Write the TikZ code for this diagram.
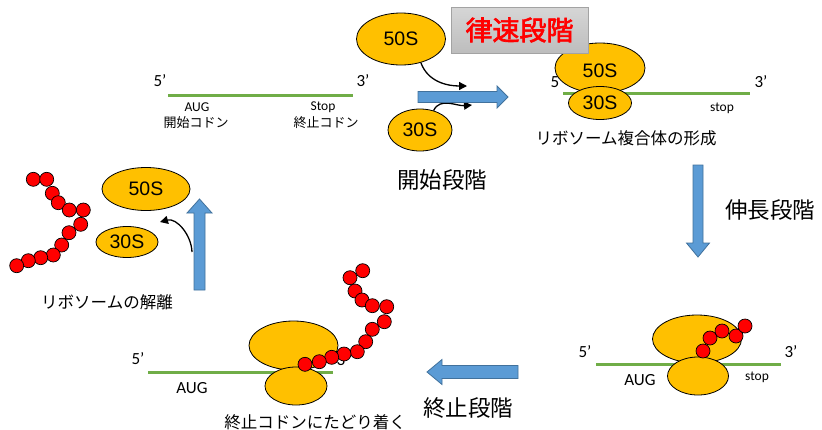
\documentclass[tikz,border=0pt]{standalone}
\usepackage{fontspec}
\setmainfont{Carlito}
\newfontfamily\jp{Noto Sans CJK JP}
\newfontfamily\jpheavy[FakeBold=2.5]{Noto Sans CJK JP}
\newfontfamily\ribofont{Liberation Sans}
\usetikzlibrary{shapes.geometric,arrows.meta}

\definecolor{ribo}{HTML}{FFC000}
\definecolor{flowblue}{HTML}{5B9BD5}
\definecolor{flowedge}{HTML}{41719C}
\definecolor{mrnagreen}{HTML}{70AD47}
\definecolor{boxtop}{HTML}{D6D6D6}
\definecolor{boxbot}{HTML}{BDBDBD}
\definecolor{boxedge}{HTML}{A3A3A3}

\tikzset{
  mrna/.style={draw=mrnagreen, line width=3pt},
  subunit/.style={ellipse, draw=black, line width=0.8pt, fill=ribo, inner sep=0pt,
                  font=\ribofont\fontsize{19.5}{19.5}\selectfont},
  bead/.style={circle, draw=black, line width=0.7pt, fill=red, minimum size=14pt, inner sep=0pt},
  lbl/.style={inner sep=0pt, font=\fontsize{17}{17}\selectfont},
  small/.style={inner sep=0pt, font=\fontsize{13.5}{13.5}\selectfont},
  jlbl/.style={inner sep=0pt, font=\jp\fontsize{16.5}{16.5}\selectfont},
  jsmall/.style={inner sep=0pt, font=\jp\fontsize{13}{13}\selectfont},
  stage/.style={inner sep=0pt, font=\jp\fontsize{22.5}{22.5}\selectfont},
  blockarrow/.style={fill=flowblue, draw=flowedge, line width=0.8pt, line join=miter},
  curvearrow/.style={draw=black, line width=1.3pt, -{Triangle[length=8pt,width=8pt]}},
}

\begin{document}
\begin{tikzpicture}[x=1pt,y=1pt]
\useasboundingbox (0,0) rectangle (822,-429);

% ---------- free mRNA with its codons ----------
\draw[mrna] (168,-95) -- (353,-95);
\node[lbl] (tl5) at (160,-81) {5’};
\node[lbl] (tl3) at (363,-81) {3’};
\node[small] (tlaug) at (197,-107) {AUG};
\node[jsmall] (tlstartc) at (196,-123) {開始コドン};
\node[small] (tlstop) at (323,-107) {Stop};
\node[jsmall] (tlstopc) at (326,-123) {終止コドン};

% ---------- separate subunits joining ----------
\node[subunit, minimum width=89pt, minimum height=52pt] (s50a) at (401,-39) {50S};
\node[subunit, minimum width=64pt, minimum height=42pt] (s30a) at (420,-130) {30S};
\coordinate (j1) at (467,-86);
\coordinate (j2) at (472,-105);
\draw[curvearrow] (s50a.-50) to[out=-70,in=180] (j1);
\draw[curvearrow] (s30a.55) to[out=65,in=185] (j2);

% initiation arrow
\fill[blockarrow] (418,-91.5) -- (497,-91.5) -- (497,-86) -- (508,-97)
  -- (497,-108) -- (497,-102.5) -- (418,-102.5) -- cycle;
\node[stage] (initst) at (442,-180) {開始段階};

% ---------- initiation complex ----------
\draw[mrna] (563,-93) -- (750,-93);
\node[lbl] (tr5) at (557,-82) {5’};
\node[lbl] (tr3) at (761,-82) {3’};
\node[small] (trstop) at (722,-108) {stop};
\node[subunit, minimum width=90pt, minimum height=50pt] (s50b) at (600,-68) {};
\node[inner sep=0pt, font=\ribofont\fontsize{19.5}{19.5}\selectfont] (t50b) at (600,-71) {50S};
\node[subunit, minimum width=63pt, minimum height=33pt] (s30b) at (600,-103) {30S};
\node[jlbl] (complex) at (626,-138) {リボソーム複合体の形成};

% rate-limiting step label
\node[draw=boxedge, line width=0.8pt, top color=boxtop, bottom color=boxbot,
      minimum width=137pt, minimum height=46pt, inner sep=0pt,
      font=\jpheavy\fontsize{27}{27}\selectfont, text=red] (ratelim) at (519.5,-30) {律速段階};

% elongation arrow
\fill[blockarrow] (693,-165) -- (703,-165) -- (703,-243) -- (709.5,-243) -- (698,-257)
  -- (686.5,-243) -- (693,-243) -- cycle;
\node[stage] (elongst) at (770,-210) {伸長段階};

% ---------- elongating ribosome ----------
\draw[mrna] (596,-364) -- (781,-364);
\node[lbl] (br5) at (585,-352) {5’};
\node[lbl] (br3) at (791,-352) {3’};
\node[lbl] (braug) at (640,-380) {AUG};
\node[small] (brstop) at (757,-377) {stop};
\node[subunit, minimum width=89pt, minimum height=48pt] (s50c) at (697,-339) {};
\node[subunit, minimum width=61pt, minimum height=38pt] (s30c) at (698,-376) {};
\foreach \p [count=\i] in {(703,-351),(710,-338),(722,-331),(736,-336),(745,-326)}
  \node[bead] (pa\i) at \p {};

% termination arrow
\fill[blockarrow] (518,-365.5) -- (442,-365.5) -- (442,-359.5) -- (427,-372)
  -- (442,-384.5) -- (442,-378.5) -- (518,-378.5) -- cycle;
\node[stage] (termst) at (468,-408) {終止段階};

% ---------- ribosome at the stop codon ----------
\draw[mrna] (148,-372) -- (333,-372);
\node[lbl] (bl5) at (138,-359) {5’};
\node[lbl] (bl3) at (343,-360) {3’};
\node[lbl] (blaug) at (192,-388) {AUG};
\node[subunit, minimum width=89pt, minimum height=49pt] (s50d) at (293.5,-345.5) {};
\node[subunit, minimum width=62pt, minimum height=38pt] (s30d) at (296,-386) {};
\foreach \p [count=\i] in {(362.7,-270.7),(350,-277.7),(355,-291),(362,-300),(372.3,-305.7),
    (386.7,-306.7),(384.3,-321.7),(372.3,-329.3),(365.7,-341.7),(357.3,-351.7),
    (344,-354),(331.7,-357.3),(319.3,-361.7),(305,-364.3)}
  \node[bead] (pb\i) at \p {};
\node[jlbl] (arrive) at (315,-422) {終止コドンにたどり着く};

% recycling arrow
\fill[blockarrow] (194,-290) -- (194,-213) -- (187,-213) -- (199.5,-199) -- (212,-213)
  -- (205,-213) -- (205,-290) -- cycle;

% ---------- dissociated ribosome and released peptide ----------
\node[subunit, minimum width=88pt, minimum height=43pt] (s50e) at (146,-189) {50S};
\node[subunit, minimum width=62pt, minimum height=31pt] (s30e) at (127,-242) {30S};
\coordinate (r0) at (192,-252);
\coordinate (r1) at (160,-222);
\draw[curvearrow] (r0) to[out=92,in=15] (r1);
\foreach \p [count=\i] in {(33.3,-179.3),(46.7,-179.3),(52.3,-193.3),(58.3,-202.7),(69.3,-210),
    (83.3,-210),(80.7,-224.3),(69,-232.7),(61.7,-245),(53.3,-255),(40.7,-257.7),
    (28.3,-260.7),(16.7,-265.7)}
  \node[bead] (pc\i) at \p {};
\node[jlbl] (release) at (107,-302) {リボソームの解離};
\end{tikzpicture}
\end{document}
